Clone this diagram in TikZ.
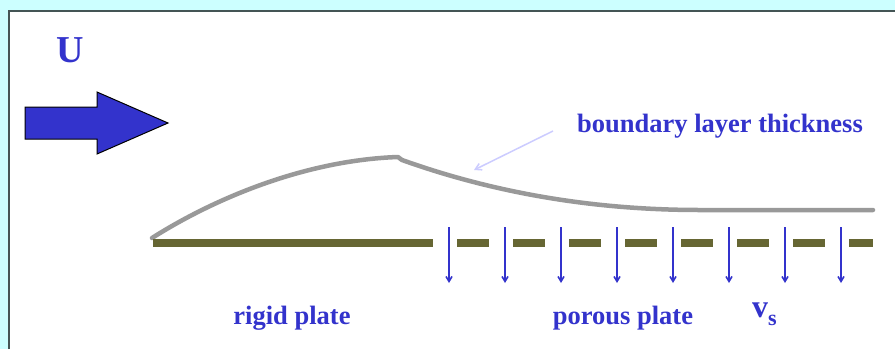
\documentclass[tikz,border=0pt]{standalone}
\usepackage{fontspec}
\setmainfont{Liberation Serif}
\usetikzlibrary{arrows.meta}
\definecolor{bgcyan}{HTML}{CCFFFF}
\definecolor{frame}{HTML}{445555}
\definecolor{txtblue}{HTML}{3333CC}
\definecolor{olive}{HTML}{666633}
\definecolor{bl}{HTML}{999999}
\definecolor{pointer}{HTML}{CCCCFF}
\tikzset{
  lbl/.style={text=txtblue, font=\bfseries\fontsize{26.5}{30}\selectfont, inner sep=0pt},
  plate/.style={olive, line width=8pt},
  suction/.style={txtblue, line width=1.6pt, -{Straight Barb[length=5pt,width=6pt]}},
  layer/.style={bl, line width=4.5pt, line cap=round, line join=round},
}
\begin{document}
\begin{tikzpicture}[x=1pt,y=-1pt]
\useasboundingbox (0,0) rectangle (895,349);
\fill[bgcyan] (0,0) rectangle (895,349);
\fill[white] (9,11) rectangle (895,349);
\draw[frame, line width=2pt] (9,349) -- (9,11) -- (895,11);
% U label and arrow
\node[lbl, font=\bfseries\fontsize{38}{40}\selectfont] (U) at (70,50) {U};
\draw[fill=txtblue, draw=black, line width=1pt]
  (25,107) -- (97,107) -- (97,92) -- (168,123) -- (97,154) -- (97,139) -- (25,139) -- cycle;
% boundary layer
\coordinate (bl0) at (152,238);
\coordinate (bl1) at (398,157);
\coordinate (bl2) at (402,160);
\coordinate (bl3) at (700,210);
\coordinate (bl4) at (873,210);
\draw[layer] (bl0) .. controls (220,195) and (310,160) .. (bl1) -- (bl2)
  .. controls (500,195) and (600,210) .. (bl3) -- (bl4);
% label and pointer
\node[lbl] (blt) at (720,126) {boundary layer thickness};
\coordinate (pt) at (474,170);
\draw[pointer, line width=1.5pt, -{Straight Barb[length=6pt,width=7pt]}] (553,131) -- (pt);
% rigid plate
\coordinate (r0) at (153,243);
\coordinate (r1) at (433,243);
\draw[plate] (r0) -- (r1);
% porous plate
\foreach \i in {0,...,7}{
  \pgfmathsetmacro{\xa}{457+56*\i}
  \pgfmathsetmacro{\xb}{min(\xa+32,873)}
  \draw[plate] (\xa,243) -- (\xb,243);
  \pgfmathsetmacro{\xc}{449+56*\i}
  \coordinate (s\i) at (\xc,227);
  \coordinate (e\i) at (\xc,283);
  \draw[suction] (s\i) -- (e\i);
}
% labels
\node[lbl] (rp) at (292,318) {rigid plate};
\node[lbl] (pp) at (623,318) {porous plate};
\node[lbl, anchor=base west, font=\bfseries\fontsize{32}{34}\selectfont] (vs) at (752,317) {v\raisebox{-8pt}{\fontsize{22}{24}\selectfont s}};
\end{tikzpicture}
\end{document}
